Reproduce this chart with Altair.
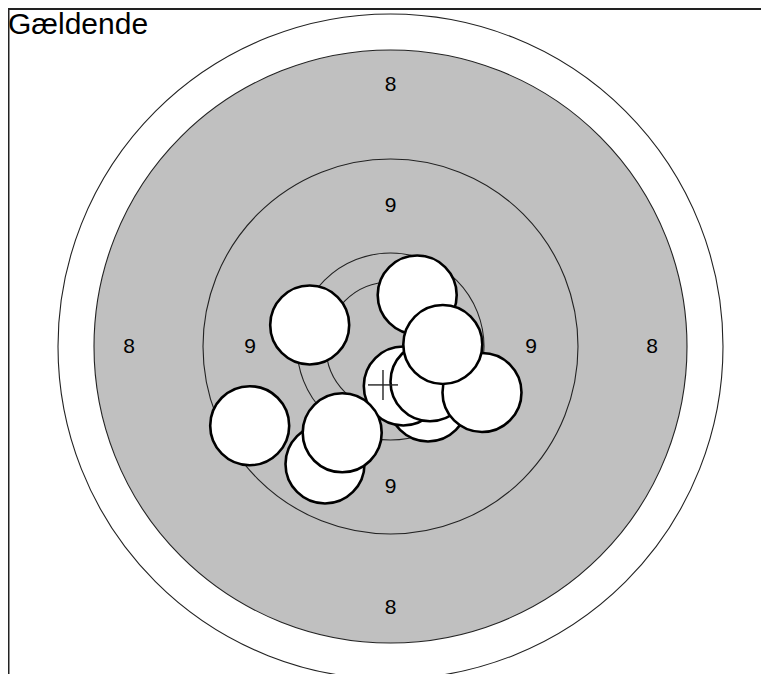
import altair as alt
import pandas as pd

# Target geometry (target units, centre = 0,0)
ring_names = ["7", "8", "9", "10", "X"]
ring_radii = [332.5, 296.5, 187.5, 93.5, 64.5]
ring_fills = ["white", "#c0c0c0", "transparent", "transparent", "transparent"]

# Ring score labels: text and distance from centre
label_texts = ["8", "9"]
label_radii = [261.5, 140.5]

# Shots (drawing order)
shot_x = [37.5, 12.8, 39.5, 91.5, 26.7, 52.3, -65.5, -48.3, -140.8, -80.8]
shot_y = [-55.5, -39.5, -35.2, -46.0, 51.5, 2.0, -117.5, -86.3, -79.2, 21.5]
shot_radius = 39.5

title_text = "Gældende"

W, H = 753, 666
# page pixel = 8 + plot pixel; target centre at page (390.5, 346.5)
x_dom = [8 - 390.5, 8 + W - 390.5]
y_dom = [346.5 - (8 + H), 346.5 - 8]
xs = alt.Scale(domain=x_dom, nice=False, zero=False)
ys = alt.Scale(domain=y_dom, nice=False, zero=False)

rings = pd.DataFrame({"name": ring_names, "r": ring_radii, "fill": ring_fills,
                      "x": [0.0] * 5, "y": [0.0] * 5, "order": range(5)})

labels_rows = []
for t, r in zip(label_texts, label_radii):
    for dx, dy in [(0, 1), (0, -1), (1, 0), (-1, 0)]:
        labels_rows.append({"t": t, "x": dx * r, "y": dy * r})
labels = pd.DataFrame(labels_rows)

shots = pd.DataFrame({"x": shot_x, "y": shot_y, "r": [shot_radius] * len(shot_x),
                      "order": range(len(shot_x))})

ring_layer = alt.Chart(rings).transform_calculate(
    sz="4*datum.r*datum.r"
).mark_point(shape="circle", filled=True, opacity=1, stroke="#222222",
             strokeWidth=1.1, clip=False).encode(
    x=alt.X("x:Q", scale=xs, axis=None),
    y=alt.Y("y:Q", scale=ys, axis=None),
    size=alt.Size("sz:Q", scale=None, legend=None),
    fill=alt.Fill("fill:N", scale=None, legend=None),
    order=alt.Order("order:Q"),
)

label_layer = alt.Chart(labels).mark_text(
    font="Liberation Sans", fontSize=21, color="black", align="center", baseline="middle"
).encode(
    x=alt.X("x:Q", scale=xs, axis=None),
    y=alt.Y("y:Q", scale=ys, axis=None),
    text="t:N",
)

shot_layer = alt.Chart(shots).transform_calculate(
    sz="4*datum.r*datum.r"
).mark_point(shape="circle", filled=True, opacity=1, fill="white", stroke="black",
             strokeWidth=2.6).encode(
    x=alt.X("x:Q", scale=xs, axis=None),
    y=alt.Y("y:Q", scale=ys, axis=None),
    size=alt.Size("sz:Q", scale=None, legend=None),
    order=alt.Order("order:Q"),
)

centre = alt.Chart(shots).transform_aggregate(
    mx="mean(x)", my="mean(y)"
).transform_calculate(
    x1="datum.mx-15", x2="datum.mx+15", y1="datum.my-15", y2="datum.my+15"
)
cross_h = centre.mark_rule(color="#222222", strokeWidth=1.4).encode(
    x=alt.X("x1:Q", scale=xs, axis=None), x2="x2:Q",
    y=alt.Y("my:Q", scale=ys, axis=None),
)
cross_v = centre.mark_rule(color="#222222", strokeWidth=1.4).encode(
    x=alt.X("mx:Q", scale=xs, axis=None),
    y=alt.Y("y1:Q", scale=ys, axis=None), y2="y2:Q",
)

title_layer = alt.Chart(pd.DataFrame({"t": [title_text]})).mark_text(
    font="Liberation Sans", fontSize=30, color="black", align="left", baseline="alphabetic"
).encode(x=alt.value(0), y=alt.value(25.5), text="t:N")

top_line = alt.Chart(pd.DataFrame({"a": [0]})).mark_rule(color="#222222", strokeWidth=2).encode(
    x=alt.value(0), x2=alt.value(W), y=alt.value(1))
left_line = alt.Chart(pd.DataFrame({"a": [0]})).mark_rule(color="#222222", strokeWidth=1.5).encode(
    x=alt.value(0.75), y=alt.value(0), y2=alt.value(H))

chart = alt.layer(
    ring_layer, label_layer, shot_layer, cross_h, cross_v, title_layer, top_line, left_line
).properties(
    width=W, height=H, autosize=alt.AutoSizeParams(type="none"), padding=0,
    background="white"
).configure_view(stroke=None)

chart.save("out.html", embed_options={"renderer": "svg", "actions": False})
